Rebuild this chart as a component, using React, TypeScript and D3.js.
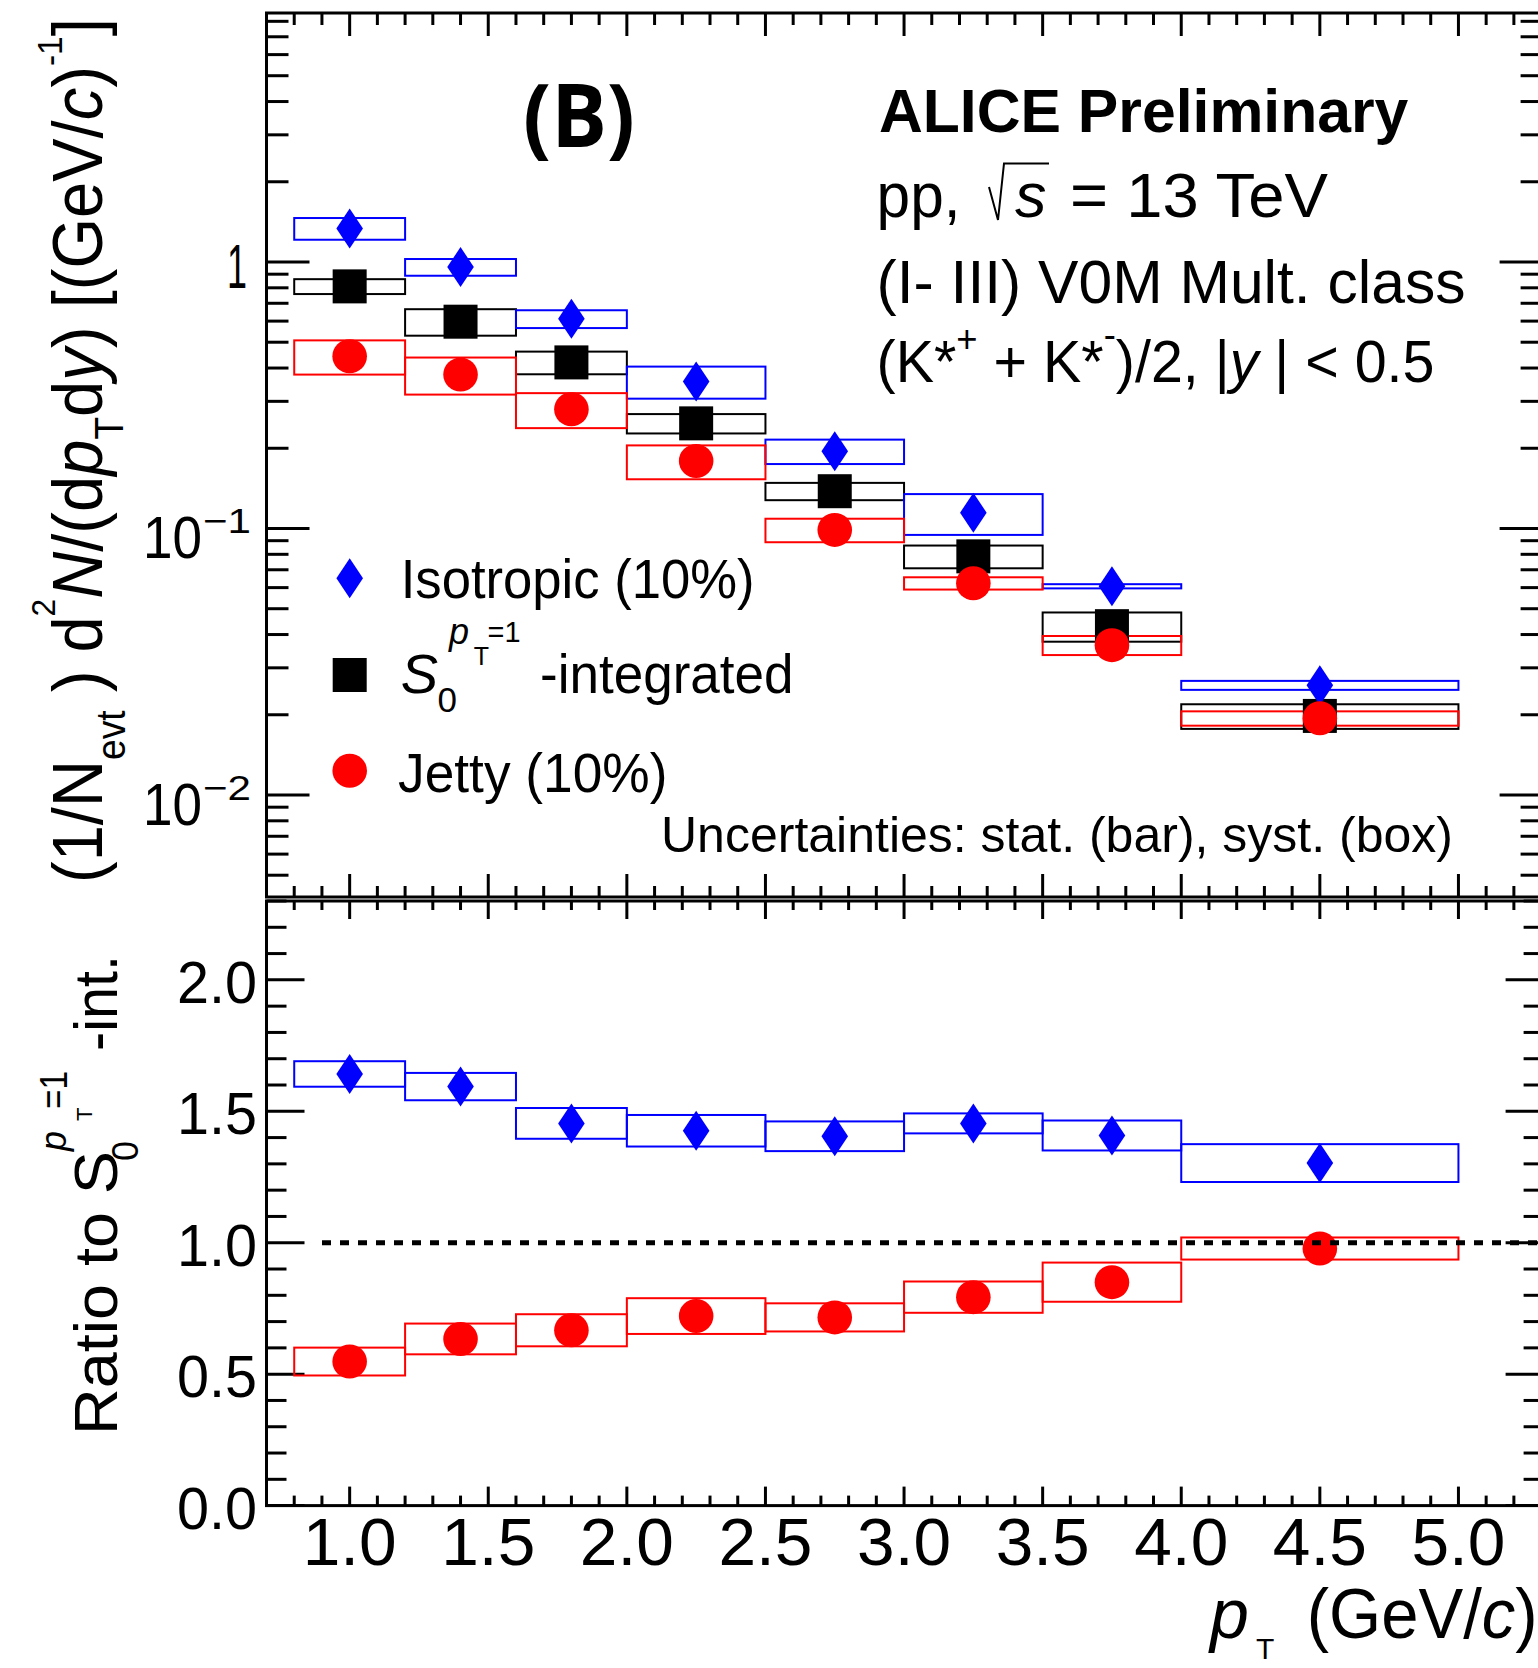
import React, { useLayoutEffect, useRef, useState } from "react";
import * as d3 from "d3";

const W = 1538;
const H = 1668;
const SANS = "'Liberation Sans', Arial, Helvetica, sans-serif";

// ---------- data ----------
const binCenters = [1.0, 1.4, 1.8, 2.25, 2.75, 3.25, 3.75, 4.5];
const binLow = [0.8, 1.2, 1.6, 2.0, 2.5, 3.0, 3.5, 4.0];
const binHigh = [1.2, 1.6, 2.0, 2.5, 3.0, 3.5, 4.0, 5.0];

const isoYield = [1.337, 0.957, 0.612, 0.356, 0.195, 0.1146, 0.0607, 0.0258];
const isoYieldSyst = [0.125, 0.069, 0.047, 0.049, 0.0205, 0.02, 0.0011, 0.001];
const s0Yield = [0.81, 0.597, 0.42, 0.248, 0.138, 0.0786, 0.043, 0.0198];
const s0YieldSyst = [0.052, 0.068, 0.041, 0.0207, 0.0103, 0.0077, 0.0054, 0.0021];
const jetYield = [0.443, 0.378, 0.28, 0.179, 0.0988, 0.0623, 0.0365, 0.0194];
const jetYieldSyst = [0.065, 0.06, 0.042, 0.026, 0.01, 0.0033, 0.003, 0.0012];

const isoRatio = [1.642, 1.594, 1.454, 1.426, 1.405, 1.454, 1.408, 1.303];
const isoRatioSyst = [0.0485, 0.052, 0.0585, 0.06, 0.0565, 0.038, 0.057, 0.072];
const jetRatio = [0.548, 0.634, 0.667, 0.721, 0.716, 0.793, 0.85, 0.978];
const jetRatioSyst = [0.053, 0.0585, 0.061, 0.068, 0.0535, 0.0595, 0.0745, 0.042];

const xTickValues = [1.0, 1.5, 2.0, 2.5, 3.0, 3.5, 4.0, 4.5, 5.0];
const xTickLabels = ["1.0", "1.5", "2.0", "2.5", "3.0", "3.5", "4.0", "4.5", "5.0"];
const ratioTickValues = [0, 0.5, 1.0, 1.5, 2.0];
const ratioTickLabels = ["0.0", "0.5", "1.0", "1.5", "2.0"];
const logTickValues = [0.01, 0.1, 1];
const logTickExps = ["−2", "−1", ""];

// ---------- scales ----------
const x = d3.scaleLinear().domain([0.7, 5.3]).range([266.5, 1541.6]);
const yTop = d3.scaleLog().domain([0.004142, 8.596]).range([897, 13]);
const yBot = d3.scaleLinear().domain([0, 2.3]).range([1505.6, 901]);

const BLUE = "#0000ff";
const RED = "#ff0000";
const BLACK = "#000000";

function FitText(props: any) {
  const { x: tx, y: ty, width, anchor = "start", rotate = 0, fontSize, fontFamily = SANS, fontWeight, fontStyle, fill = "#000", children } = props;
  const ref = useRef<SVGTextElement>(null);
  const [s, setS] = useState(1);
  useLayoutEffect(() => {
    if (!ref.current || !width) return;
    const w = ref.current.getBBox().width;
    if (w > 0) setS(width / w);
  }, [width]);
  return (
    <g transform={`translate(${tx},${ty}) rotate(${rotate}) scale(${s},1)`}>
      <text ref={ref} textAnchor={anchor} fontSize={fontSize} fontFamily={fontFamily} fontWeight={fontWeight} fontStyle={fontStyle} fill={fill}>
        {children}
      </text>
    </g>
  );
}

function Diamond({ cx, cy }: any) {
  return <path d={`M${cx},${cy - 20}L${cx + 13.3},${cy}L${cx},${cy + 20}L${cx - 13.3},${cy}Z`} fill={BLUE} />;
}
function Square({ cx, cy }: any) {
  return <rect x={cx - 17} y={cy - 17} width={34} height={34} fill={BLACK} />;
}
function Circle({ cx, cy }: any) {
  return <ellipse cx={cx} cy={cy} rx={17.3} ry={17} fill={RED} />;
}

function Boxes({ vals, syst, color, y }: any) {
  return (
    <g>
      {vals.map((v: number, i: number) => {
        const y1 = y(v + syst[i]);
        const y2 = y(v - syst[i]);
        return (
          <rect key={i} x={x(binLow[i])} y={y1} width={x(binHigh[i]) - x(binLow[i])} height={y2 - y1} fill="none" stroke={color} strokeWidth={2} />
        );
      })}
    </g>
  );
}

function range(a: number, b: number, step: number) {
  const out: number[] = [];
  for (let v = a; v <= b + 1e-9; v += step) out.push(Math.round(v * 1000) / 1000);
  return out;
}

export default function App() {
  const xMinor = range(0.7, 5.3, 0.1).filter((v) => !xTickValues.some((m) => Math.abs(m - v) < 1e-6));
  const logMinor: number[] = [];
  [0.001, 0.01, 0.1, 1].forEach((d) => {
    for (let k = 2; k <= 9; k++) {
      const v = k * d;
      if (v > 0.004142 && v < 8.596) logMinor.push(v);
    }
  });
  const ratioMinor = range(0, 2.3, 0.1).filter((v) => !ratioTickValues.some((m) => Math.abs(m - v) < 1e-6));

  const xL = x(0.7);
  const xR = x(5.3);
  const sw = 3;

  return (
    <svg width={W} height={H} style={{ position: "absolute", left: 0, top: 0, background: "#fff" }} fontFamily={SANS}>
      <rect x={0} y={0} width={W} height={H} fill="#fff" />

      {/* ---------- TOP PANEL ---------- */}
      <g>
        {xTickValues.map((v) => (
          <g key={"tx" + v}>
            <line x1={x(v)} x2={x(v)} y1={13} y2={36} stroke="#000" strokeWidth={sw} />
            <line x1={x(v)} x2={x(v)} y1={897} y2={874} stroke="#000" strokeWidth={sw} />
          </g>
        ))}
        {xMinor.map((v) => (
          <g key={"tmx" + v}>
            <line x1={x(v)} x2={x(v)} y1={13} y2={25} stroke="#000" strokeWidth={sw} />
            <line x1={x(v)} x2={x(v)} y1={897} y2={886} stroke="#000" strokeWidth={sw} />
          </g>
        ))}
        {logTickValues.map((v) => (
          <g key={"ty" + v}>
            <line x1={xL} x2={xL + 43} y1={yTop(v)} y2={yTop(v)} stroke="#000" strokeWidth={sw} />
            <line x1={xR} x2={xR - 42} y1={yTop(v)} y2={yTop(v)} stroke="#000" strokeWidth={sw} />
          </g>
        ))}
        {logMinor.map((v) => (
          <g key={"tmy" + v}>
            <line x1={xL} x2={xL + 22} y1={yTop(v)} y2={yTop(v)} stroke="#000" strokeWidth={sw} />
            <line x1={xR} x2={xR - 21} y1={yTop(v)} y2={yTop(v)} stroke="#000" strokeWidth={sw} />
          </g>
        ))}
        <rect x={xL} y={13} width={xR - xL} height={897 - 13} fill="none" stroke="#000" strokeWidth={sw} />

        {logTickValues.map((v, i) =>
          logTickExps[i] === "" ? (
            <FitText key={"yl" + i} x={247} y={yTop(v) + 26} width={20} anchor="end" fontSize={63}>
              1
            </FitText>
          ) : (
            <g key={"yl" + i}>
              <FitText x={143} y={yTop(v) + 30} width={59} fontSize={60}>
                10
              </FitText>
              <FitText x={203} y={yTop(v) + 5} width={48} fontSize={36}>
                {logTickExps[i]}
              </FitText>
            </g>
          )
        )}

        <Boxes vals={s0Yield} syst={s0YieldSyst} color={BLACK} y={yTop} />
        <Boxes vals={isoYield} syst={isoYieldSyst} color={BLUE} y={yTop} />
        <Boxes vals={jetYield} syst={jetYieldSyst} color={RED} y={yTop} />
        {s0Yield.map((v, i) => (
          <Square key={"s" + i} cx={x(binCenters[i])} cy={yTop(v)} />
        ))}
        {isoYield.map((v, i) => (
          <Diamond key={"d" + i} cx={x(binCenters[i])} cy={yTop(v)} />
        ))}
        {jetYield.map((v, i) => (
          <Circle key={"c" + i} cx={x(binCenters[i])} cy={yTop(v)} />
        ))}

        <FitText x={579} y={147} width={112} anchor="middle" fontSize={87} fontFamily="'Open Sans', sans-serif" fontWeight={700}>
          (B)
        </FitText>
        <FitText x={879} y={131.7} width={530} fontSize={62} fontWeight={700}>
          ALICE Preliminary
        </FitText>
        <FitText x={876.6} y={217.3} width={84} fontSize={63}>
          pp,
        </FitText>
        <path d="M989,187 L998,220 L1004,163.5 L1049,163.5" fill="none" stroke="#000" strokeWidth={2} />
        <text x={1015} y={217.3} fontSize={63} fontStyle="italic">
          s
        </text>
        <FitText x={1070} y={217.3} width={258} fontSize={63}>
          = 13 TeV
        </FitText>
        <FitText x={876.6} y={303.3} width={589} fontSize={62}>
          (I- III) V0M Mult. class
        </FitText>
        <FitText x={876.6} y={381.7} width={558} fontSize={60}>
          <tspan>(K*</tspan>
          <tspan dy={-30} fontSize={38}>+</tspan>
          <tspan dy={30}> + K*</tspan>
          <tspan dy={-34} fontSize={38}>-</tspan>
          <tspan dy={34}>)/2, |</tspan>
          <tspan fontStyle="italic">y</tspan>
          <tspan> | &lt; 0.5</tspan>
        </FitText>

        <Diamond cx={349.7} cy={578.3} />
        <Square cx={349.7} cy={675} />
        <Circle cx={349.7} cy={770.7} />
        <FitText x={400.7} y={598.3} width={354} fontSize={56}>
          Isotropic (10%)
        </FitText>
        <text x={400.7} y={693.3} fontSize={56} fontStyle="italic">
          S
        </text>
        <text x={437.5} y={711.7} fontSize={35}>
          0
        </text>
        <text x={449} y={644} fontSize={36} fontStyle="italic">
          p
        </text>
        <text x={473.7} y={665} fontSize={25}>
          T
        </text>
        <FitText x={487.5} y={641.7} width={33} fontSize={30}>
          =1
        </FitText>
        <FitText x={540} y={693.3} width={253.6} fontSize={56}>
          -integrated
        </FitText>
        <FitText x={398} y={791.7} width={269.5} fontSize={56}>
          Jetty (10%)
        </FitText>
        <FitText x={661} y={851.7} width={792} fontSize={49}>
          Uncertainties: stat. (bar), syst. (box)
        </FitText>

        <FitText x={102} y={883} width={865} rotate={-90} fontSize={70}>
          <tspan>(1/N</tspan>
          <tspan dy={23} fontSize={40}>evt</tspan>
          <tspan dy={-23}> ) d</tspan>
          <tspan dy={-47} fontSize={34}>2</tspan>
          <tspan dy={47} fontStyle="italic">N</tspan>
          <tspan>/(d</tspan>
          <tspan fontStyle="italic">p</tspan>
          <tspan dy={21} fontSize={40}>T</tspan>
          <tspan dy={-21}>d</tspan>
          <tspan fontStyle="italic">y</tspan>
          <tspan>) [(GeV/</tspan>
          <tspan fontStyle="italic">c</tspan>
          <tspan>)</tspan>
          <tspan dy={-40} fontSize={36}>-1</tspan>
          <tspan dy={40}>]</tspan>
        </FitText>
      </g>

      {/* ---------- BOTTOM PANEL ---------- */}
      <g>
        {xTickValues.map((v) => (
          <g key={"bx" + v}>
            <line x1={x(v)} x2={x(v)} y1={901} y2={919} stroke="#000" strokeWidth={sw} />
            <line x1={x(v)} x2={x(v)} y1={1505.6} y2={1486.6} stroke="#000" strokeWidth={sw} />
          </g>
        ))}
        {xMinor.map((v) => (
          <g key={"bmx" + v}>
            <line x1={x(v)} x2={x(v)} y1={901} y2={910} stroke="#000" strokeWidth={sw} />
            <line x1={x(v)} x2={x(v)} y1={1505.6} y2={1495.6} stroke="#000" strokeWidth={sw} />
          </g>
        ))}
        {ratioTickValues.map((v) => (
          <g key={"by" + v}>
            <line x1={xL} x2={xL + 38} y1={yBot(v)} y2={yBot(v)} stroke="#000" strokeWidth={sw} />
            <line x1={xR} x2={xR - 36} y1={yBot(v)} y2={yBot(v)} stroke="#000" strokeWidth={sw} />
          </g>
        ))}
        {ratioMinor.map((v) => (
          <g key={"bmy" + v}>
            <line x1={xL} x2={xL + 20} y1={yBot(v)} y2={yBot(v)} stroke="#000" strokeWidth={sw} />
            <line x1={xR} x2={xR - 18} y1={yBot(v)} y2={yBot(v)} stroke="#000" strokeWidth={sw} />
          </g>
        ))}
        <rect x={xL} y={901} width={xR - xL} height={1505.6 - 901} fill="none" stroke="#000" strokeWidth={sw} />

        {ratioTickValues.map((v, i) => (
          <FitText key={"rl" + i} x={257} y={yBot(v) + 23} width={80} anchor="end" fontSize={59}>
            {ratioTickLabels[i]}
          </FitText>
        ))}
        {xTickValues.map((v, i) => (
          <FitText key={"xl" + i} x={x(v)} y={1565} width={94} anchor="middle" fontSize={67}>
            {xTickLabels[i]}
          </FitText>
        ))}

        <Boxes vals={isoRatio} syst={isoRatioSyst} color={BLUE} y={yBot} />
        <Boxes vals={jetRatio} syst={jetRatioSyst} color={RED} y={yBot} />
        {isoRatio.map((v, i) => (
          <Diamond key={"rd" + i} cx={x(binCenters[i])} cy={yBot(v)} />
        ))}
        {jetRatio.map((v, i) => (
          <Circle key={"rc" + i} cx={x(binCenters[i])} cy={yBot(v)} />
        ))}
        <line x1={322} x2={xR} y1={yBot(1)} y2={yBot(1)} stroke="#000" strokeWidth={5} strokeDasharray="9,9" />

        <FitText x={117} y={1435} width={284} rotate={-90} fontSize={62}>
          Ratio to S
        </FitText>
        <g transform="translate(138,1161) rotate(-90)">
          <text fontSize={36}>0</text>
        </g>
        <g transform="translate(66,1151) rotate(-90)">
          <text fontSize={36} fontStyle="italic">p</text>
        </g>
        <g transform="translate(92,1121) rotate(-90)">
          <text fontSize={22}>T</text>
        </g>
        <FitText x={67} y={1109} width={38} rotate={-90} fontSize={38}>
          =1
        </FitText>
        <FitText x={117} y={1051} width={96} rotate={-90} fontSize={62}>
          -int.
        </FitText>

        <text x={1210} y={1638.3} fontSize={70} fontStyle="italic">
          p
        </text>
        <text x={1256} y={1659} fontSize={30}>
          T
        </text>
        <FitText x={1306.7} y={1638.3} width={231} fontSize={70}>
          <tspan>(GeV/</tspan>
          <tspan fontStyle="italic">c</tspan>
          <tspan>)</tspan>
        </FitText>
      </g>
    </svg>
  );
}
